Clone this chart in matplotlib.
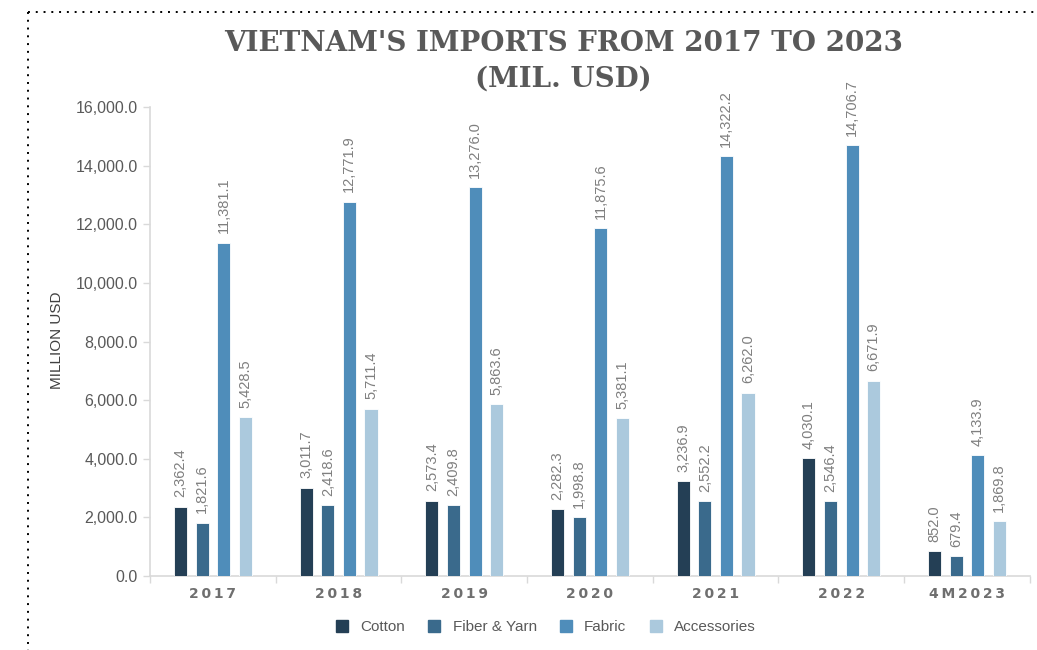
import numpy as np
import matplotlib.pyplot as plt
from matplotlib.lines import Line2D
from matplotlib.ticker import FuncFormatter

# data
years = ["2017", "2018", "2019", "2020", "2021", "2022", "4M2023"]
series = ["Cotton", "Fiber & Yarn", "Fabric", "Accessories"]
cotton = [2362.4, 3011.7, 2573.4, 2282.3, 3236.9, 4030.1, 852.0]
fiber_yarn = [1821.6, 2418.6, 2409.8, 1998.8, 2552.2, 2546.4, 679.4]
fabric = [11381.1, 12771.9, 13276.0, 11875.6, 14322.2, 14706.7, 4133.9]
accessories = [5428.5, 5711.4, 5863.6, 5381.1, 6262.0, 6671.9, 1869.8]
yticks = [0, 2000, 4000, 6000, 8000, 10000, 12000, 14000, 16000]

colors = ["#243F55", "#3A6A8C", "#4F8DBA", "#ABC9DD"]
grey = "#595959"

fig = plt.figure(figsize=(10.37, 6.5), dpi=100)
ax = fig.add_axes([0.1447, 0.1138, 0.8483, 0.7212])

x = np.arange(len(years))
step = 0.172
width = 0.104
all_vals = [cotton, fiber_yarn, fabric, accessories]
for i, vals in enumerate(all_vals):
    pos = x + (i - 1.5) * step
    ax.bar(pos, vals, width=width, color=colors[i], edgecolor="white", linewidth=0.6, zorder=3)
    for p, v in zip(pos, vals):
        ax.text(p, v + 320, f"{v:,.1f}", rotation=90, ha="center", va="bottom",
                fontsize=10.5, color="#7F7F7F", family="Liberation Sans")

ax.set_xlim(-0.5, len(years) - 0.5)
ax.set_ylim(0, 16000)
ax.set_yticks(yticks)
ax.yaxis.set_major_formatter(FuncFormatter(lambda v, _: f"{v:,.1f}"))
ax.tick_params(axis="y", labelsize=11.5, labelcolor=grey, color="#D9D9D9", length=5, width=1, pad=4)
for lab in ax.get_yticklabels():
    lab.set_family("Liberation Sans")

# category labels between boundary ticks
ax.set_xticks(np.arange(len(years) + 1) - 0.5)
ax.set_xticklabels([])
ax.tick_params(axis="x", color="#D9D9D9", length=5, width=1, direction="out")
for xi, y in zip(x, years):
    ax.text(xi, -380, "\u2009".join(y), ha="center", va="top", fontsize=10,
            color="#6F6F6F", fontweight="bold", family="DejaVu Sans")

for s in ["top", "right"]:
    ax.spines[s].set_visible(False)
for s in ["left", "bottom"]:
    ax.spines[s].set_color("#D9D9D9")
    ax.spines[s].set_linewidth(1.2)

fig.text(0.055, 0.477, "MILLION USD", rotation=90, ha="center", va="center",
         fontsize=11, color="#404040", family="Liberation Sans")

fig.text(0.543, 0.933, "VIETNAM'S IMPORTS FROM 2017 TO 2023", ha="center", va="center",
         fontsize=20, fontweight="bold", color=grey, family="DejaVu Serif")
fig.text(0.543, 0.878, "(MIL. USD)", ha="center", va="center",
         fontsize=20, fontweight="bold", color=grey, family="DejaVu Serif")

handles = [Line2D([], [], marker="s", linestyle="none", markersize=8, color=c) for c in colors]
fig.legend(handles, series, loc="center", bbox_to_anchor=(0.522, 0.035), ncol=4, frameon=False,
           prop={"family": "Liberation Sans", "size": 11}, labelcolor=grey,
           handletextpad=0.2, columnspacing=0.9)

# dotted border on top and left
fig.add_artist(Line2D([0.027, 1.0], [0.982, 0.982], transform=fig.transFigure,
                      color="black", linestyle=(0, (1, 3)), linewidth=1.4))
fig.add_artist(Line2D([0.027, 0.027], [0.982, 0.0], transform=fig.transFigure,
                      color="black", linestyle=(0, (1, 3)), linewidth=1.4))

fig.savefig("out.png", dpi=100)
